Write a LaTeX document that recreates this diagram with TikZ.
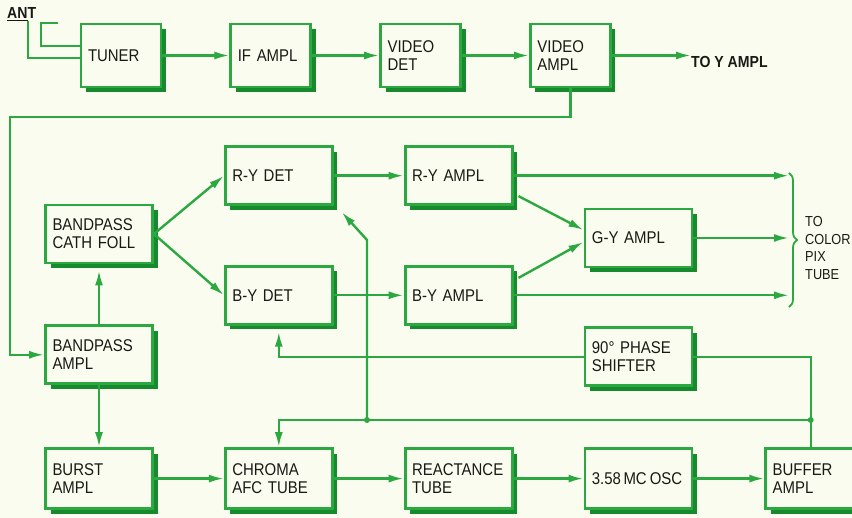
\documentclass[tikz,border=0pt]{standalone}
\usepackage{fontspec}
\setmainfont{Liberation Sans}[FakeStretch=0.88]
\usetikzlibrary{arrows.meta, positioning, shadows, decorations.pathreplacing}
\definecolor{wiregreen}{RGB}{44,168,64}
\definecolor{shadegreen}{RGB}{22,138,44}
\definecolor{papercream}{RGB}{251,252,240}
\definecolor{inkdark}{RGB}{24,26,20}

\begin{document}
\begin{tikzpicture}[
                x=1pt, y=-1pt,
                font=\fontsize{17}{18}\selectfont,
                text=inkdark,
                box/.style={
                    rectangle,
                    draw=wiregreen,
                    line width=2.8pt,
                    fill=papercream,
                    drop shadow={shadow xshift=5pt, shadow yshift=-5pt,
                        fill=shadegreen, opacity=1},
                    text width=93pt,
                    inner xsep=7pt,
                    minimum height=58pt,
                    align=left
                },
                topbox/.style={box, text width=66pt, minimum height=63pt},
                lowbox/.style={box, minimum height=60pt},
                label/.style={inner sep=0pt, anchor=west, align=left},
                arrow/.style={-{Latex[length=15pt,width=8pt]}, line width=2.4pt, wiregreen},
                wire/.style={line width=2.4pt, wiregreen}
            ]

            \path [use as bounding box, fill=papercream] (0,0) rectangle (852,518);

            % Top Row
            \node (tuner) [topbox] at (121,55.5) {TUNER};

            \node (ifampl) [topbox, right=67pt of tuner] {IF AMPL};

            \node (videodet) [topbox, right=67pt of ifampl] {VIDEO\\DET};

            \node (videoampl) [topbox, right=67pt of videodet] {VIDEO\\AMPL};

            \node (ant) [label, font=\fontsize{16}{17}\selectfont\bfseries]
            at (7,14) {\underline{AN}T};

            \node (toyampl) [label, font=\fontsize{16}{17}\selectfont\bfseries]
            at (691,62) {TO Y AMPL};

            % Chroma section
            \node (cathfoll) [box] at (99,234) {BANDPASS\\CATH FOLL};

            \node (rydet) [box, above right=-2.5pt and 70pt of cathfoll] {R-Y DET};

            \node (bydet) [box, below right=0.5pt and 70pt of cathfoll] {B-Y DET};

            \node (ryampl) [box, right=70pt of rydet] {R-Y AMPL};

            \node (byampl) [box, right=70pt of bydet] {B-Y AMPL};

            \node (gyampl) [box, below right=1.5pt and 70pt of ryampl] {G-Y AMPL};

            \node (bpampl) [box, below=60pt of cathfoll] {BANDPASS\\AMPL};

            % Bottom Row
            \node (burst) [lowbox, below=62pt of bpampl] {BURST\\AMPL};

            \node (chroma) [lowbox, right=70pt of burst] {CHROMA\\AFC TUBE};

            \node (reactance) [lowbox, right=70pt of chroma] {REACTANCE\\TUBE};

            \node (osc) [lowbox, right=70pt of reactance] {3.58\hspace{2.5pt}MC\hspace{3pt}OSC};

            \node (buffer) [lowbox, text width=76pt, right=71pt of osc] {BUFFER\\AMPL};

            \node (phase) [box, above=60pt of osc] {90° PHASE\\SHIFTER};

            \node (colortube) [label, font=\fontsize{14.5}{17.5}\selectfont]
            at (805,248) {TO\\COLOR\\PIX\\TUBE};

            % Antenna leads
            \coordinate (leadA) at (28,21);
            \coordinate (leadB) at (58,23);
            \draw [wire] (leadA) |- ([yshift=-2.5pt]tuner.west);
            \draw [wire] (leadB) -- ++(-17,0) |- ([yshift=9.5pt]tuner.west);

            % Arrows
            \draw [arrow] (tuner) -- (ifampl);
            \draw [arrow] (ifampl) -- (videodet);
            \draw [arrow] (videodet) -- (videoampl);
            \draw [arrow] (videoampl.east) -- (videoampl.east -| toyampl.west);

            \coordinate (loopcorner) at (10,117);
            \draw [arrow] (videoampl.south) |- (loopcorner) |- (bpampl.west);

            \draw [arrow, shorten >=6pt] (bpampl) -- (cathfoll);
            \draw [arrow] (bpampl) -- (burst);
            \draw [arrow] (cathfoll.east) -- (rydet.west);
            \draw [arrow] (cathfoll.east) -- (bydet.west);
            \draw [arrow] (rydet) -- (ryampl);
            \draw [arrow] (bydet) -- (byampl);
            \draw [arrow] ([xshift=5pt,yshift=10pt]ryampl.south east) -- ([yshift=8pt]gyampl.west);
            \draw [arrow] ([xshift=5pt,yshift=-13pt]byampl.north east) -- ([yshift=-4pt]gyampl.west);

            \coordinate (bracetop) at (789,173);
            \coordinate (bracebot) at (789,307);
            \draw [wire, line width=1.8pt, decorate, decoration={brace, amplitude=8pt}]
            (bracetop) -- (bracebot);
            \draw [arrow] (ryampl.east) -- (ryampl.east -| bracetop);
            \draw [arrow] (gyampl.east) -- (gyampl.east -| bracetop);
            \draw [arrow] (byampl.east) -- (byampl.east -| bracetop);

            \draw [arrow] (burst) -- (chroma);
            \draw [arrow] (chroma) -- (reactance);
            \draw [arrow] (reactance) -- (osc);
            \draw [arrow] (osc) -- (buffer);

            \draw [wire] (buffer.north) |- (phase.east);
            \draw [arrow, shorten >=6pt] (phase.west) -| (bydet.south);

            \coordinate (afcjunc) at (367,420);
            \draw [arrow] (buffer.north |- afcjunc) -| (chroma.north);
            \draw [arrow] (afcjunc) -- ++(0,-180) -- ([xshift=8pt,yshift=-6pt]rydet.south east);
            \fill [wiregreen] (afcjunc) circle (3pt);
            \fill [wiregreen] (buffer.north |- afcjunc) circle (3pt);

            \end{tikzpicture}
\end{document}
